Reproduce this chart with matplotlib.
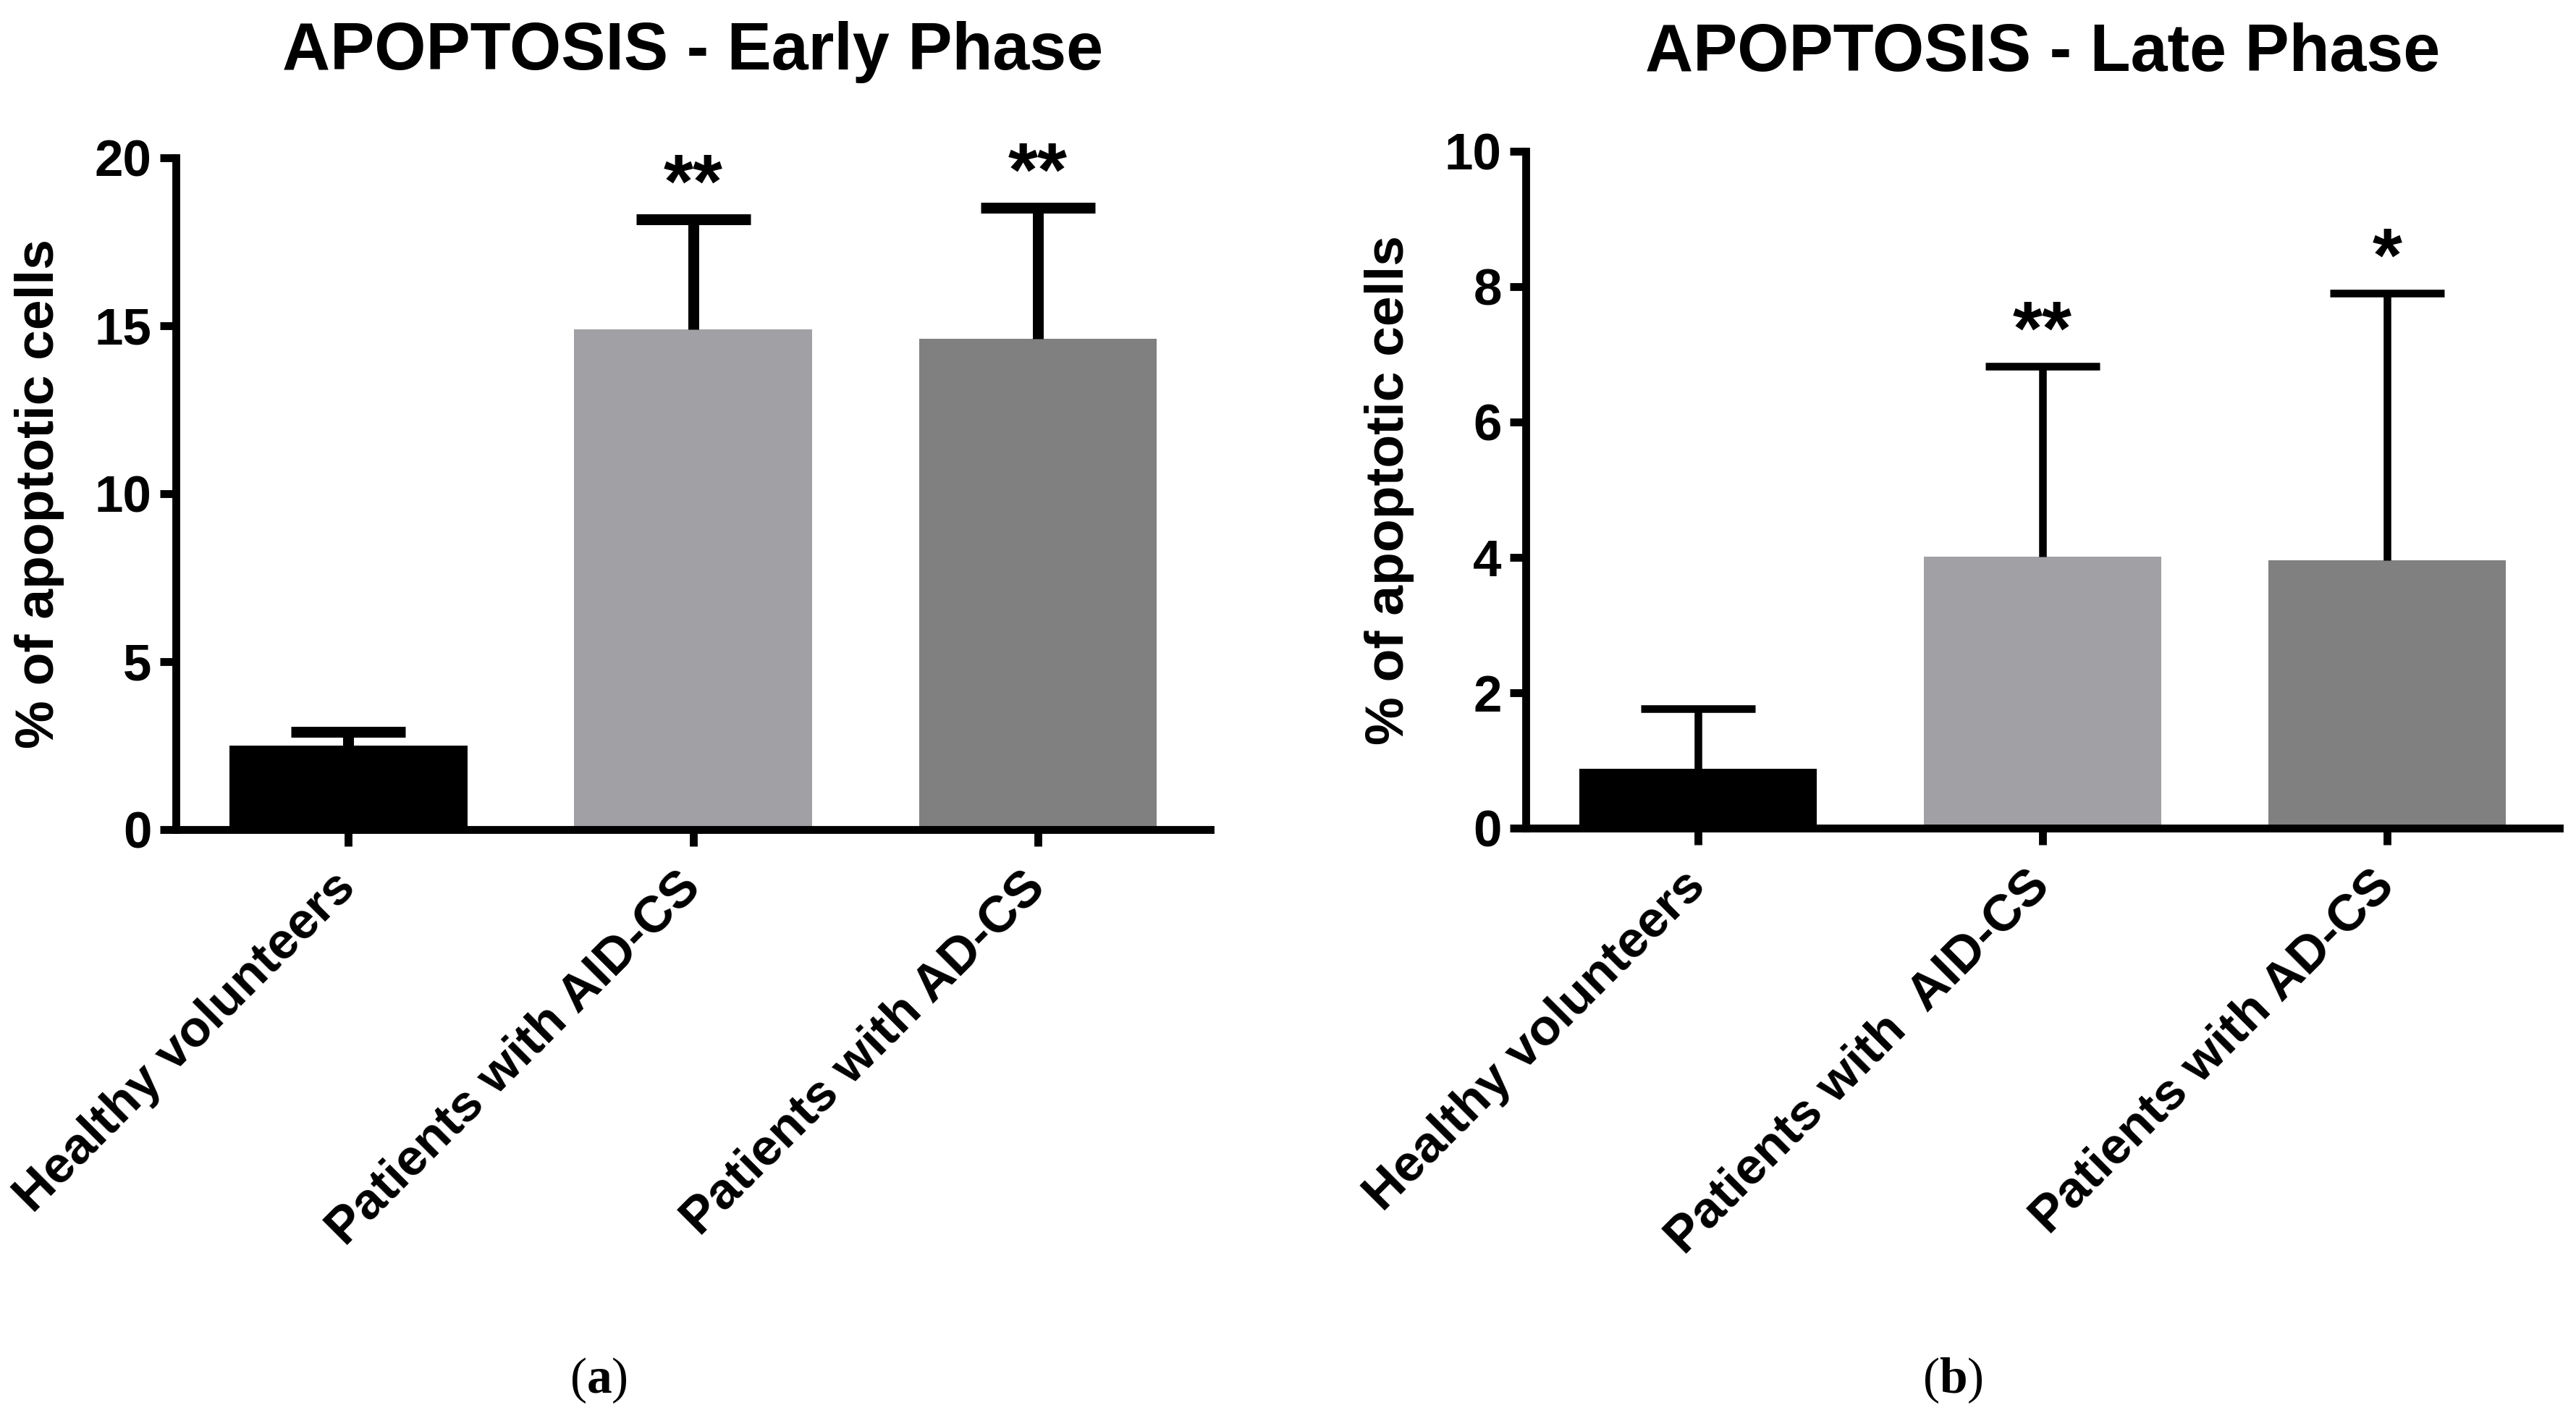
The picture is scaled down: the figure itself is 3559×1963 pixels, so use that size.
import matplotlib
matplotlib.use('Agg')
import matplotlib.pyplot as plt
import numpy as np

plt.rcParams['font.family'] = ['Liberation Sans', 'DejaVu Sans']
plt.rcParams['font.weight'] = 'bold'
plt.rcParams['mathtext.fontset'] = 'custom'
plt.rcParams['mathtext.rm'] = 'Liberation Serif'
plt.rcParams['mathtext.bf'] = 'Liberation Serif:bold'

# data
groups_early = ['Healthy volunteers', 'Patients with AID-CS', 'Patients with AD-CS']
groups_late = ['Healthy volunteers', 'Patients with  AID-CS', 'Patients with AD-CS']
early_mean = [2.49, 14.9, 14.62]
early_sd = [0.41, 3.27, 3.9]
late_mean = [0.88, 4.01, 3.96]
late_sd = [0.89, 2.81, 3.94]
early_stars = ['', '**', '**']
late_stars = ['', '**', '*']

bar_colors = ['#000000', '#a1a0a5', '#808080']

fig = plt.figure(figsize=(3559 / 200, 1963 / 200), dpi=200)
ax1 = fig.add_axes([0.0683, 0.4162, 0.4015, 0.4727])
ax2 = fig.add_axes([0.5923, 0.4172, 0.4012, 0.4763])


def draw_panel(ax, labels, means, sds, stars, ymax, ystep, title, err_lw, title_pad):
    x = np.arange(len(labels))
    ax.bar(x, means, 0.69, color=bar_colors, zorder=2)
    # one-sided (upper) error bars, GraphPad style
    _, caps, _ = ax.errorbar(x, means, yerr=[np.zeros(len(sds)), sds], fmt='none',
                             ecolor='black', elinewidth=err_lw, capsize=28.5,
                             capthick=err_lw, zorder=3)
    caps[0].set_visible(False)
    for xi, m, s, st in zip(x, means, sds, stars):
        if st:
            ax.annotate(st, xy=(xi, m + s), xytext=(0, 6), textcoords='offset points',
                        ha='center', va='baseline', fontsize=38, fontweight='bold',
                        annotation_clip=False)
    ax.set_xlim(-0.5, 2.5)
    ax.set_ylim(0, ymax)
    ax.set_yticks(np.arange(0, ymax + ystep / 2, ystep))
    ax.set_xticks(x)
    ax.set_xticklabels(labels, rotation=45, ha='right', va='center',
                       rotation_mode='anchor', fontsize=25.5, fontweight='bold')
    for sp in ['top', 'right']:
        ax.spines[sp].set_visible(False)
    for sp in ['left', 'bottom']:
        ax.spines[sp].set_linewidth(3.9)
    ax.tick_params(axis='y', length=8, width=3.9, pad=4, labelsize=25.5)
    ax.tick_params(axis='x', length=8.3, width=3.9, pad=17)
    for t in ax.get_yticklabels():
        t.set_fontweight('bold')
    ax.set_ylabel('% of apoptotic cells', fontsize=27, fontweight='bold')
    ax.yaxis.set_label_coords(-0.132, 0.5)
    ax.yaxis.label.set_verticalalignment('center')
    ax.set_title(title, fontsize=33, fontweight='bold', pad=title_pad)


draw_panel(ax1, groups_early, early_mean, early_sd, early_stars, 20, 5,
           'APOPTOSIS - Early Phase', 5.4, 44)
draw_panel(ax2, groups_late, late_mean, late_sd, late_stars, 10, 2,
           'APOPTOSIS - Late Phase', 3.8, 40)

fig.text(0.2324, 0.0285, r'($\mathbf{a}$)', ha='center', va='center', fontsize=25,
         family='Liberation Serif', fontweight='normal')
fig.text(0.758, 0.0285, r'($\mathbf{b}$)', ha='center', va='center', fontsize=25,
         family='Liberation Serif', fontweight='normal')

fig.savefig('out.png', dpi=200)
